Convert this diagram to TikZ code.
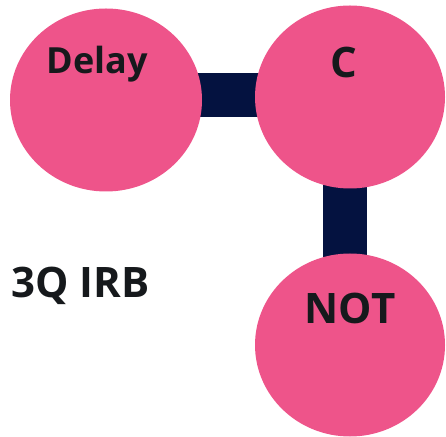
\documentclass[tikz,border=0pt]{standalone}
\usepackage{fontspec}
\setmainfont{Open Sans}
\usetikzlibrary{shapes.geometric,backgrounds}
\definecolor{gatepink}{RGB}{238,84,138}
\definecolor{wirenavy}{RGB}{4,18,64}
\definecolor{labelink}{RGB}{22,25,28}
\tikzset{
  gate/.style={ellipse, fill=gatepink, draw=none, minimum width=192pt, minimum height=183pt, inner sep=0pt},
  wire/.style={draw=wirenavy, line width=44pt, line cap=butt},
  gatelabel/.style={text=labelink, font=\bfseries, anchor=base, inner sep=0pt},
}
\begin{document}
\begin{tikzpicture}[x=1pt,y=1pt]
  \useasboundingbox (0,0) rectangle (446,436);
  % gates
  \node[gate] (delay) at (106,336) {};
  \node[gate, minimum width=190pt] (c) at (350,339) {};
  \node[gate, minimum width=190pt] (not) at (350,91) {};
  % gate labels
  \node[gatelabel, font=\fontsize{36}{36}\bfseries\selectfont] (delaylbl) at (97,362) {Delay};
  \node[gatelabel, font=\fontsize{42}{42}\bfseries\selectfont] (clbl) at (344,358) {C};
  \node[gatelabel, font=\fontsize{42}{42}\bfseries\selectfont] (notlbl) at (350,113) {NOT};
  % circuit caption
  \node[gatelabel, anchor=base west, font=\fontsize{42}{42}\bfseries\selectfont] (caption) at (11,139) {3Q IRB};
  % wires behind the gates
  \begin{scope}[on background layer]
    \draw[wire] ([yshift=5pt]delay.center) -- ([yshift=2pt]c.center);
    \draw[wire] ([xshift=-5pt]c.center) -- ([xshift=-5pt]not.center);
  \end{scope}
\end{tikzpicture}
\end{document}
